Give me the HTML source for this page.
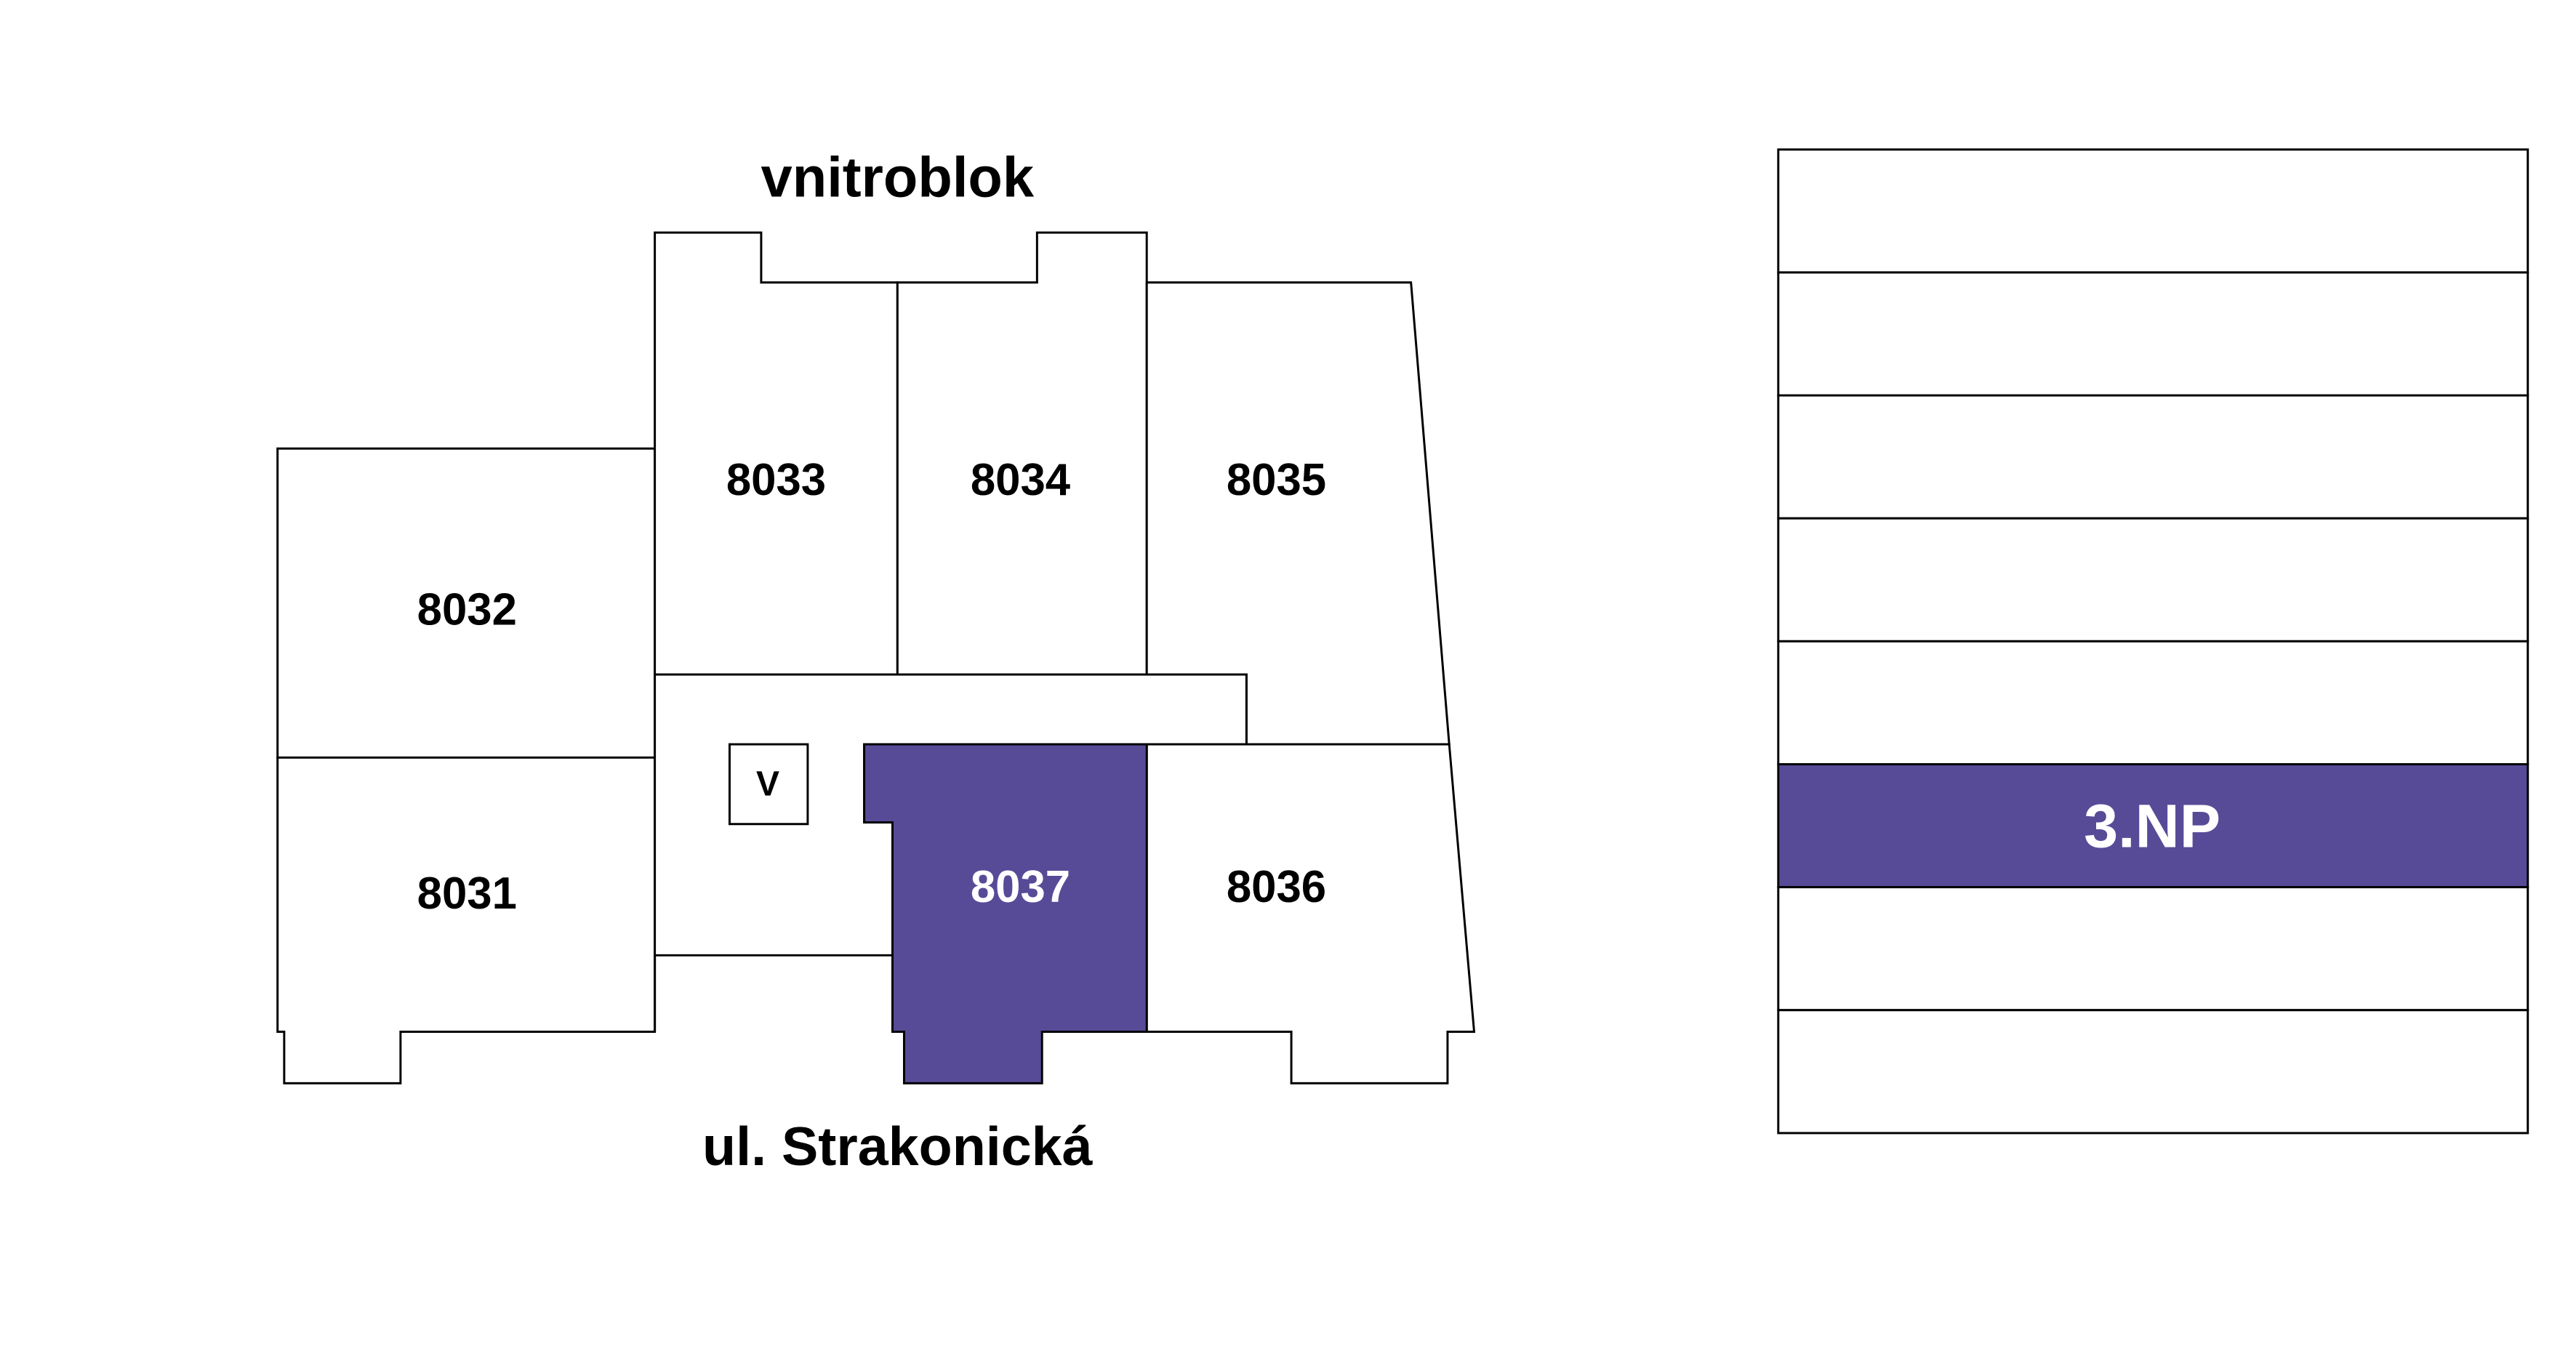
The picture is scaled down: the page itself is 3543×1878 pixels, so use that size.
<!DOCTYPE html>
<html><head><meta charset="utf-8"><style>
html,body{margin:0;padding:0;background:#fff;}
svg{display:block;}
text{font-family:"Liberation Sans","DejaVu Sans",sans-serif;font-weight:bold;text-anchor:middle;dominant-baseline:central;}
</style></head><body>
<svg width="3543" height="1878" viewBox="0 0 1550 821.6" preserveAspectRatio="none" xmlns="http://www.w3.org/2000/svg">
<g fill="#fff" stroke="#000" stroke-width="1.3" stroke-linejoin="miter">
<polygon points="167,270 394,270 394,456 167,456"/>
<polygon points="167,456 394,456 394,621 241,621 241,652 171,652 171,621 167,621"/>
<polygon points="394,140 458,140 458,170 540,170 540,406 394,406"/>
<polygon points="540,170 624,170 624,140 690,140 690,406 540,406"/>
<polygon points="690,170 849,170 872,448 750,448 750,406 690,406"/>
<polygon points="394,406 750,406 750,448 520,448 520,495 537,495 537,575 394,575"/>
<rect x="439" y="448" width="47" height="48"/>
<polygon points="690,448 872,448 887,621 871,621 871,652 777,652 777,621 690,621"/>
<polygon fill="#574b98" points="520,448 690,448 690,621 627,621 627,652 544,652 544,621 537,621 537,495 520,495"/>
<line x1="394" y1="575" x2="394" y2="621"/>
</g>
<g font-size="27" fill="#000">
<text x="281" y="367">8032</text>
<text x="281" y="538">8031</text>
<text x="467" y="289">8033</text>
<text x="614" y="289">8034</text>
<text x="768" y="289">8035</text>
<text x="768" y="534">8036</text>
<text x="614" y="534" fill="#fff">8037</text>
<text x="462" y="472" font-size="21">V</text>
</g>
<text x="540" y="107" font-size="34">vnitroblok</text>
<text x="540" y="690" font-size="33">ul. Strakonická</text>
<g fill="#fff" stroke="#000" stroke-width="1.3">
<rect x="1070" y="90" width="451" height="74"/>
<rect x="1070" y="164" width="451" height="74"/>
<rect x="1070" y="238" width="451" height="74"/>
<rect x="1070" y="312" width="451" height="74"/>
<rect x="1070" y="386" width="451" height="74"/>
<rect x="1070" y="460" width="451" height="74" fill="#574b98"/>
<rect x="1070" y="534" width="451" height="74"/>
<rect x="1070" y="608" width="451" height="74"/>
</g>
<text x="1295" y="497" font-size="37" fill="#fff">3.NP</text>
</svg>
</body></html>
